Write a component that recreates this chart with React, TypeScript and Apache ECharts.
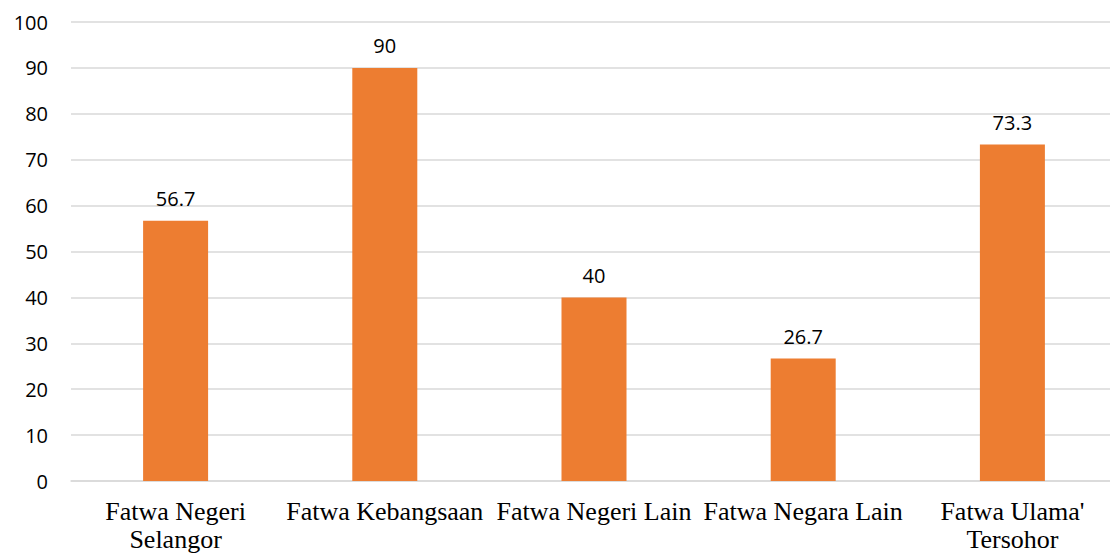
import React, { useEffect, useRef } from "react";
import * as echarts from "echarts";

const categories = [
  "Fatwa Negeri\nSelangor",
  "Fatwa Kebangsaan",
  "Fatwa Negeri Lain",
  "Fatwa Negara Lain",
  "Fatwa Ulama'\nTersohor",
];
const values = [56.7, 90, 40, 26.7, 73.3];
const yMin = 0;
const yMax = 100;
const yInterval = 10;

export default function App() {
  const ref = useRef<HTMLDivElement>(null);
  useEffect(() => {
    if (!ref.current) return;
    const chart = echarts.init(ref.current, null, { renderer: "svg" });
    chart.setOption({
      animation: false,
      backgroundColor: "#ffffff",
      grid: { left: 71, right: 0, top: 22, bottom: 75, containLabel: false },
      xAxis: {
        type: "category",
        data: categories,
        boundaryGap: true,
        axisTick: { show: false },
        axisLine: { show: true, lineStyle: { color: "#d9d9d9", width: 1.5 } },
        axisLabel: {
          interval: 0,
          color: "#000000",
          fontFamily: "Liberation Serif",
          fontSize: 26,
          lineHeight: 28,
          margin: 16,
        },
      },
      yAxis: {
        type: "value",
        min: yMin,
        max: yMax,
        interval: yInterval,
        axisLine: { show: false },
        axisTick: { show: false },
        splitLine: { lineStyle: { color: "#d9d9d9", width: 1.5 } },
        axisLabel: {
          color: "#000000",
          fontFamily: "Open Sans",
          fontSize: 20,
          margin: 23,
        },
      },
      series: [
        {
          type: "bar",
          data: values,
          barWidth: 65,
          itemStyle: { color: "#ED7D31" },
          label: {
            show: true,
            position: "top",
            distance: 12,
            color: "#000000",
            fontFamily: "Open Sans",
            fontSize: 20,
          },
        },
      ],
    });
    return () => chart.dispose();
  }, []);
  return (
    <div
      style={{
        position: "fixed",
        left: 0,
        top: 0,
        width: 1110,
        height: 556,
        overflow: "hidden",
        background: "#ffffff",
      }}
    >
      <div ref={ref} style={{ width: 1117, height: 556 }} />
    </div>
  );
}
